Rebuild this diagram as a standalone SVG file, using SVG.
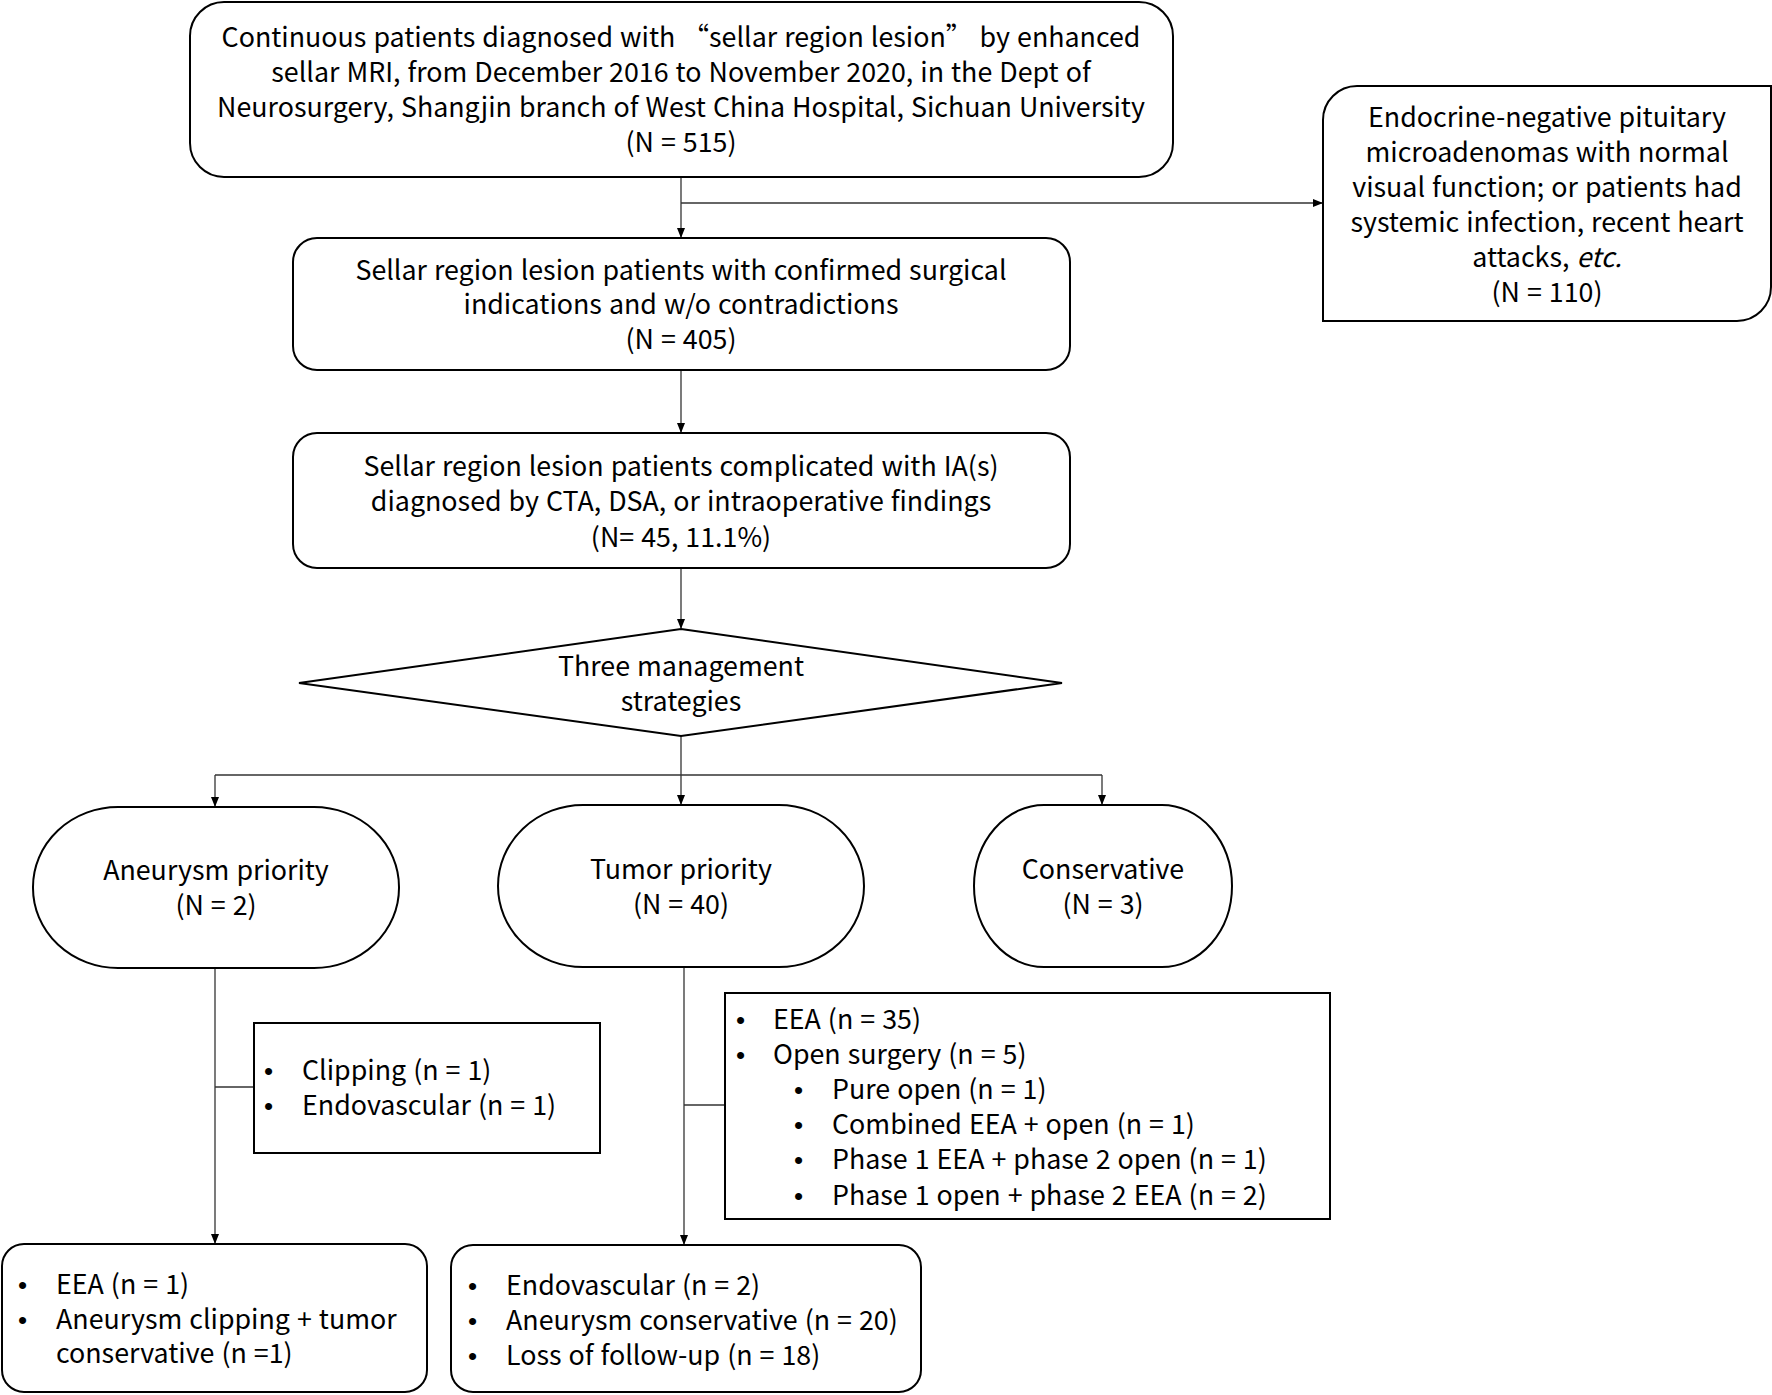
<svg xmlns="http://www.w3.org/2000/svg" width="1772" height="1395" viewBox="0 0 1772 1395">
<defs>
<marker id="arr" markerWidth="10" markerHeight="10" refX="9" refY="5" orient="auto" markerUnits="userSpaceOnUse">
<path d="M0,1 L10,5 L0,9 Z" fill="#000"/>
</marker>
<style>
.box{fill:#fff;stroke:#000;stroke-width:2}
.t{font-family:"Noto Sans CJK SC","Noto Sans",sans-serif;font-size:26.8px;word-spacing:1px;fill:#000}
.b{font-family:"Liberation Sans",sans-serif;font-size:26px;fill:#000}
.c{text-anchor:middle}
.ln{fill:none;stroke:#333;stroke-width:1.3}
</style>
</defs>
<rect width="1772" height="1395" fill="#fff"/>
<g id="connectors">
<line class="ln" x1="681" y1="177" x2="681" y2="237" marker-end="url(#arr)"/>
<line class="ln" x1="681" y1="203" x2="1322" y2="203" marker-end="url(#arr)"/>
<line class="ln" x1="681" y1="370" x2="681" y2="432" marker-end="url(#arr)"/>
<line class="ln" x1="681" y1="568" x2="681" y2="628" marker-end="url(#arr)"/>
<line class="ln" x1="681" y1="736" x2="681" y2="775"/>
<line class="ln" x1="215" y1="775" x2="1102" y2="775"/>
<line class="ln" x1="215" y1="775" x2="215" y2="806" marker-end="url(#arr)"/>
<line class="ln" x1="681" y1="775" x2="681" y2="804" marker-end="url(#arr)"/>
<line class="ln" x1="1102" y1="775" x2="1102" y2="804" marker-end="url(#arr)"/>
<line class="ln" x1="215" y1="968" x2="215" y2="1243" marker-end="url(#arr)"/>
<line class="ln" x1="215" y1="1087" x2="254" y2="1087"/>
<line class="ln" x1="684" y1="967" x2="684" y2="1244" marker-end="url(#arr)"/>
<line class="ln" x1="684" y1="1105" x2="725" y2="1105"/>
</g>
<g id="n1">
<rect class="box" x="190" y="2" width="983" height="175" rx="34"/>
<text class="t c" x="681" y="47">Continuous patients diagnosed with   “sellar region lesion”   by enhanced</text>
<text class="t c" x="681" y="82">sellar MRI, from December 2016 to November 2020, in the Dept of</text>
<text class="t c" x="681" y="117">Neurosurgery, Shangjin branch of West China Hospital, Sichuan University</text>
<text class="t c" x="681" y="152">(N = 515)</text>
</g>
<g id="n2">
<path class="box" d="M1357,86 H1771 V287 A34,34 0 0 1 1737,321 H1323 V120 A34,34 0 0 1 1357,86 Z"/>
<text class="t c" x="1547" y="127">Endocrine-negative pituitary</text>
<text class="t c" x="1547" y="162">microadenomas with normal</text>
<text class="t c" x="1547" y="197">visual function; or patients had</text>
<text class="t c" x="1547" y="232">systemic infection, recent heart</text>
<text class="t c" x="1547" y="267">attacks, <tspan font-style="italic">etc.</tspan></text>
<text class="t c" x="1547" y="302">(N = 110)</text>
</g>
<g id="n3">
<rect class="box" x="293" y="238" width="777" height="132" rx="24"/>
<text class="t c" x="681" y="280">Sellar region lesion patients with confirmed surgical</text>
<text class="t c" x="681" y="314">indications and w/o contradictions</text>
<text class="t c" x="681" y="349">(N = 405)</text>
</g>
<g id="n4">
<rect class="box" x="293" y="433" width="777" height="135" rx="24"/>
<text class="t c" x="681" y="476">Sellar region lesion patients complicated with IA(s)</text>
<text class="t c" x="681" y="511">diagnosed by CTA, DSA, or intraoperative findings</text>
<text class="t c" x="681" y="547">(N= 45, 11.1%)</text>
</g>
<g id="n5">
<polygon class="box" points="681,629 1062,683 681,736 299,683"/>
<text class="t c" x="681" y="676">Three management</text>
<text class="t c" x="681" y="711">strategies</text>
</g>
<g id="n6">
<rect class="box" x="33" y="807" width="366" height="161" rx="85" ry="80"/>
<text class="t c" x="216" y="880">Aneurysm priority</text>
<text class="t c" x="216" y="915">(N = 2)</text>
</g>
<g id="n7">
<rect class="box" x="498" y="805" width="366" height="162" rx="85" ry="81"/>
<text class="t c" x="681" y="879">Tumor priority</text>
<text class="t c" x="681" y="914">(N = 40)</text>
</g>
<g id="n8">
<rect class="box" x="974" y="805" width="258" height="162" rx="70" ry="81"/>
<text class="t c" x="1103" y="879">Conservative</text>
<text class="t c" x="1103" y="914">(N = 3)</text>
</g>
<g id="n9">
<rect class="box" x="254" y="1023" width="346" height="130"/>
<text class="b" x="264" y="1080">•</text>
<text class="t" x="302" y="1080">Clipping (n = 1)</text>
<text class="b" x="264" y="1115">•</text>
<text class="t" x="302" y="1115">Endovascular (n = 1)</text>
</g>
<g id="n10">
<rect class="box" x="725" y="993" width="605" height="226"/>
<text class="b" x="736" y="1029">•</text>
<text class="t" x="773" y="1029">EEA (n = 35)</text>
<text class="b" x="736" y="1064">•</text>
<text class="t" x="773" y="1064">Open surgery (n = 5)</text>
<text class="b" x="794" y="1099">•</text>
<text class="t" x="832" y="1099">Pure open (n = 1)</text>
<text class="b" x="794" y="1134">•</text>
<text class="t" x="832" y="1134">Combined EEA + open (n = 1)</text>
<text class="b" x="794" y="1169">•</text>
<text class="t" x="832" y="1169">Phase 1 EEA + phase 2 open (n = 1)</text>
<text class="b" x="794" y="1205">•</text>
<text class="t" x="832" y="1205">Phase 1 open + phase 2 EEA (n = 2)</text>
</g>
<g id="n11">
<rect class="box" x="2" y="1244" width="425" height="148" rx="22"/>
<text class="b" x="18" y="1294">•</text>
<text class="t" x="56" y="1294">EEA (n = 1)</text>
<text class="b" x="18" y="1329">•</text>
<text class="t" x="56" y="1329">Aneurysm clipping + tumor</text>
<text class="t" x="56" y="1363">conservative (n =1)</text>
</g>
<g id="n12">
<rect class="box" x="451" y="1245" width="470" height="147" rx="22"/>
<text class="b" x="468" y="1295">•</text>
<text class="t" x="506" y="1295">Endovascular (n = 2)</text>
<text class="b" x="468" y="1330">•</text>
<text class="t" x="506" y="1330">Aneurysm conservative (n = 20)</text>
<text class="b" x="468" y="1365">•</text>
<text class="t" x="506" y="1365">Loss of follow-up (n = 18)</text>
</g>
</svg>
